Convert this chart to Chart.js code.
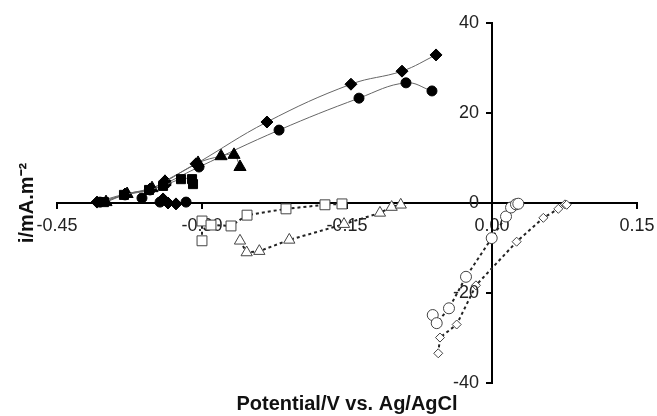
<!DOCTYPE html>
<html>
<head>
<meta charset="utf-8">
<script src="https://cdn.jsdelivr.net/npm/chart.js@4.4.1/dist/chart.umd.min.js"></script>
<style>
  body { margin: 0; background: #fff; }
  #wrap { width: 657px; height: 416px; }
</style>
</head>
<body>
<div id="wrap"><canvas id="cvChart" width="657" height="416"></canvas></div>
<script>
// axis ticks
const xTicks = [-0.45, -0.30, -0.15, 0.00, 0.15];
const yTicks = [-40, -20, 0, 20, 40];

// filled series (solid smoothed lines)
const diamondX = [-0.4086, -0.3796, -0.3538, -0.3383, -0.3062, -0.2328, -0.1459, -0.0931, -0.0579];
const diamondY = [0.2, 2.0, 3.1, 4.9, 8.7, 18.0, 26.4, 29.3, 32.9];
const circleX = [-0.4055, -0.3796, -0.3538, -0.3372, -0.3031, -0.2203, -0.1376, -0.0890, -0.0621];
const circleY = [0.2, 1.8, 2.9, 4.4, 8.0, 16.2, 23.3, 26.7, 24.9];
const squareX = [-0.4014, -0.3807, -0.3548, -0.3403, -0.3217, -0.3103, -0.3093];
const squareY = [0.2, 1.8, 2.9, 3.8, 5.3, 5.3, 4.2];
const triangleX = [-0.3993, -0.3775, -0.3517, -0.3383, -0.3041, -0.2803, -0.2669, -0.2607];
const triangleY = [0.2, 2.0, 3.3, 4.7, 8.9, 10.4, 10.7, 8.0];

// filled points sitting on the axis (no line)
const diamondLooseX = [-0.3403, -0.3352, -0.3269];
const diamondLooseY = [0.9, 0.0, -0.2];
const circleLooseX = [-0.3621, -0.3434, -0.3165];
const circleLooseY = [1.1, 0.2, 0.2];

// open series (dotted lines)
const oSquareX = [-0.300, -0.300, -0.2907, -0.270, -0.2534, -0.2131, -0.1728, -0.1552];
const oSquareY = [-8.4, -4.0, -4.9, -5.1, -2.7, -1.3, -0.4, -0.2];
const oTriangleX = [-0.2607, -0.2538, -0.2407, -0.2097, -0.1531, -0.1159, -0.1038, -0.0944];
const oTriangleY = [-8.4, -11.0, -10.7, -8.2, -4.7, -2.2, -0.9, -0.4];
const oCircleX = [-0.0613, -0.0572, -0.0445, -0.0269, -0.0003, 0.0145, 0.0197, 0.0248, 0.0272];
const oCircleY = [-24.9, -26.7, -23.4, -16.4, -7.8, -3.0, -1.0, -0.3, -0.16];
const oDiamondX = [-0.0556, -0.0538, -0.0365, -0.0166, 0.0255, 0.0531, 0.0686, 0.0755, 0.0773];
const oDiamondY = [-33.4, -29.9, -27.0, -18.3, -8.6, -3.3, -1.3, -0.3, -0.4];

const FONT = "Liberation Sans";

function pts(xs, ys) {
  return xs.map((x, i) => ({ x: x, y: ys[i] }));
}

function filled(xs, ys, style, r, line) {
  return {
    data: pts(xs, ys),
    showLine: line,
    borderColor: "#666",
    borderWidth: 1,
    tension: 0.4,
    pointStyle: style,
    pointRadius: r,
    pointBackgroundColor: "#000",
    pointBorderColor: "#000",
    pointBorderWidth: 1
  };
}

function open(xs, ys, style, r) {
  return {
    data: pts(xs, ys),
    showLine: true,
    borderColor: "#222",
    borderWidth: 2,
    borderDash: [3, 3],
    tension: 0,
    pointStyle: style,
    pointRadius: r,
    pointBackgroundColor: "#fff",
    pointBorderColor: "#444",
    pointBorderWidth: 1
  };
}

// y tick labels drawn left of the crossing axis (centred axes give no padding)
const yLabels = {
  id: "yLabels",
  afterDraw(chart) {
    const c = chart.ctx;
    const xs = chart.scales.x, ys = chart.scales.y;
    const ax = xs.getPixelForValue(0);
    c.save();
    c.fillStyle = "#222";
    c.font = "18px '" + FONT + "'";
    c.textAlign = "right";
    c.textBaseline = "middle";
    yTicks.forEach(v => c.fillText(String(v), ax - 13, ys.getPixelForValue(v)));
    c.restore();
  }
};

const ctx = document.getElementById("cvChart").getContext("2d");
new Chart(ctx, {
  type: "scatter",
  data: {
    datasets: [
      open(oSquareX, oSquareY, "rect", 7),
      open(oTriangleX, oTriangleY, "triangle", 6.5),
      open(oCircleX, oCircleY, "circle", 5.5),
      open(oDiamondX, oDiamondY, "rectRot", 4.5),
      filled(squareX, squareY, "rect", 6.4, true),
      filled(triangleX, triangleY, "triangle", 7, true),
      filled(circleX, circleY, "circle", 5, true),
      filled(diamondX, diamondY, "rectRot", 6, true),
      filled(diamondLooseX, diamondLooseY, "rectRot", 6, false),
      filled(circleLooseX, circleLooseY, "circle", 5, false)
    ]
  },
  plugins: [yLabels],
  options: {
    responsive: false,
    animation: false,
    layout: { padding: { left: 0, right: 20, top: 23, bottom: 0 } },
    plugins: {
      legend: { display: false },
      tooltip: { enabled: false },
      title: {
        display: true,
        position: "bottom",
        fullSize: false,
        text: "Potential/V vs. Ag/AgCl",
        color: "#111",
        font: { family: FONT, size: 20, weight: "bold" },
        padding: { top: 9, bottom: 0 }
      },
      subtitle: {
        display: true,
        position: "left",
        fullSize: false,
        text: "i/mA.m\u207B\u00B2",
        color: "#111",
        font: { family: FONT, size: 20, weight: "bold" },
        padding: { top: 15, bottom: 18 }
      }
    },
    scales: {
      x: {
        type: "linear",
        position: { y: 0 },
        min: -0.45,
        max: 0.15,
        afterBuildTicks: s => { s.ticks = xTicks.map(v => ({ value: v })); },
        afterFit: s => { s.paddingLeft = 0; s.paddingRight = 0; },
        ticks: {
          color: "#222",
          font: { family: FONT, size: 18 },
          padding: 7,
          callback: v => v.toFixed(2)
        },
        grid: { drawOnChartArea: false, drawTicks: true, tickLength: 5, color: "#000", lineWidth: 2 },
        border: { display: true, color: "#000", width: 2 }
      },
      y: {
        type: "linear",
        position: { x: 0 },
        min: -40,
        max: 40,
        afterBuildTicks: s => { s.ticks = yTicks.map(v => ({ value: v })); },
        ticks: { display: false },
        grid: { drawOnChartArea: false, drawTicks: true, tickLength: 5, color: "#000", lineWidth: 2 },
        border: { display: true, color: "#000", width: 2 }
      }
    }
  }
});
</script>
</body>
</html>
